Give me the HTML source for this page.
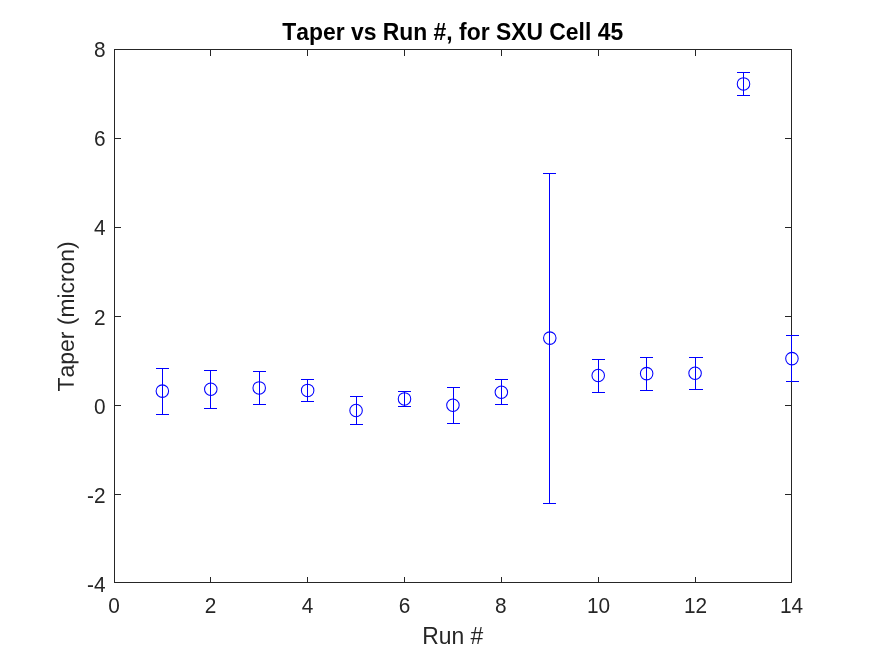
<!DOCTYPE html>
<html lang="en"><head><meta charset="utf-8"><title>Taper vs Run #, for SXU Cell 45</title>
<style>html,body{margin:0;padding:0;background:#fff;overflow:hidden}svg{display:block}text{font-family:"Liberation Sans",Arial,Helvetica,sans-serif;fill:#262626;font-kerning:none;font-feature-settings:"kern" 0,"liga" 0}.tk{font-size:20.83px}.lb{font-size:22.9px}.ti{font-size:22.9px;font-weight:bold;fill:#000}</style></head><body>
<svg width="875" height="656" viewBox="0 0 875 656">
<rect width="875" height="656" fill="#ffffff"/>
<g stroke="#262626" stroke-width="1" fill="none" stroke-linecap="butt">
<rect x="114.5" y="49.5" width="677.0" height="533.0"/>
<line x1="210.5" y1="582.5" x2="210.5" y2="577"/>
<line x1="210.5" y1="49.5" x2="210.5" y2="56"/>
<line x1="307.5" y1="582.5" x2="307.5" y2="577"/>
<line x1="307.5" y1="49.5" x2="307.5" y2="56"/>
<line x1="404.5" y1="582.5" x2="404.5" y2="577"/>
<line x1="404.5" y1="49.5" x2="404.5" y2="56"/>
<line x1="501.5" y1="582.5" x2="501.5" y2="577"/>
<line x1="501.5" y1="49.5" x2="501.5" y2="56"/>
<line x1="598.5" y1="582.5" x2="598.5" y2="577"/>
<line x1="598.5" y1="49.5" x2="598.5" y2="56"/>
<line x1="695.5" y1="582.5" x2="695.5" y2="577"/>
<line x1="695.5" y1="49.5" x2="695.5" y2="56"/>
<line x1="114.5" y1="138.5" x2="121" y2="138.5"/>
<line x1="791.5" y1="138.5" x2="785" y2="138.5"/>
<line x1="114.5" y1="227.5" x2="121" y2="227.5"/>
<line x1="791.5" y1="227.5" x2="785" y2="227.5"/>
<line x1="114.5" y1="316.5" x2="121" y2="316.5"/>
<line x1="791.5" y1="316.5" x2="785" y2="316.5"/>
<line x1="114.5" y1="405.5" x2="121" y2="405.5"/>
<line x1="791.5" y1="405.5" x2="785" y2="405.5"/>
<line x1="114.5" y1="494.5" x2="121" y2="494.5"/>
<line x1="791.5" y1="494.5" x2="785" y2="494.5"/>
</g>
<g class="tk" text-anchor="middle">
<text transform="translate(114.0,613.1) scale(1,1.065)">0</text>
<text transform="translate(210.5,613.1) scale(1,1.065)">2</text>
<text transform="translate(307.5,613.1) scale(1,1.065)">4</text>
<text transform="translate(404.5,613.1) scale(1,1.065)">6</text>
<text transform="translate(500.8,613.1) scale(1,1.065)">8</text>
<text transform="translate(598.5,613.1) scale(1,1.065)">10</text>
<text transform="translate(695.5,613.1) scale(1,1.065)">12</text>
<text transform="translate(791.5,613.1) scale(1,1.065)">14</text>
</g>
<g class="tk" text-anchor="end">
<text transform="translate(105.5,57.1) scale(1,1.065)">8</text>
<text transform="translate(105.5,146.1) scale(1,1.065)">6</text>
<text transform="translate(105.5,235.1) scale(1,1.065)">4</text>
<text transform="translate(105.5,325.1) scale(1,1.065)">2</text>
<text transform="translate(105.5,414.1) scale(1,1.065)">0</text>
<text transform="translate(105.5,503.1) scale(1,1.065)">-2</text>
<text transform="translate(105.5,592.1) scale(1,1.065)">-4</text>
</g>
<text class="ti" text-anchor="middle" transform="translate(452.7,39.9) scale(1,1.045)">Taper vs Run #, for SXU Cell 45</text>
<text class="lb" text-anchor="middle" transform="translate(452.7,643.9) scale(1,1.07)">Run #</text>
<text class="lb" text-anchor="middle" transform="translate(73.9,316.35) rotate(-89.95) scale(1.0,1.0)">Taper (micron)</text>
<g stroke="#0000ff" stroke-width="1" fill="none">
<path d="M162.5 368.5V414.5M156.0 368.5H169.0M156.0 414.5H169.0"/>
<path d="M210.5 370.5V408.5M204.0 370.5H217.0M204.0 408.5H217.0"/>
<path d="M259.5 371.5V404.5M253.0 371.5H266.0M253.0 404.5H266.0"/>
<path d="M307.5 379.5V401.5M301.0 379.5H314.0M301.0 401.5H314.0"/>
<path d="M356.5 396.5V424.5M350.0 396.5H363.0M350.0 424.5H363.0"/>
<path d="M404.5 391.5V406.5M398.0 391.5H411.0M398.0 406.5H411.0"/>
<path d="M453.5 387.5V423.5M447.0 387.5H460.0M447.0 423.5H460.0"/>
<path d="M501.5 379.5V404.5M495.0 379.5H508.0M495.0 404.5H508.0"/>
<path d="M549.5 173.5V503.5M543.0 173.5H556.0M543.0 503.5H556.0"/>
<path d="M598.5 359.5V392.5M592.0 359.5H605.0M592.0 392.5H605.0"/>
<path d="M646.5 357.5V390.5M640.0 357.5H653.0M640.0 390.5H653.0"/>
<path d="M695.5 357.5V389.5M689.0 357.5H703.0M689.0 389.5H703.0"/>
<path d="M743.5 72.5V95.5M737.0 72.5H750.0M737.0 95.5H750.0"/>
<path d="M791.5 335.5V381.5M786.0 335.5H799.0M786.0 381.5H799.0"/>
</g>
<g stroke="#0000ff" stroke-width="1.05" fill="none">
<circle cx="162.35" cy="391.1" r="6.25"/>
<circle cx="210.78" cy="389.3" r="6.25"/>
<circle cx="259.21" cy="387.9" r="6.25"/>
<circle cx="307.64" cy="390.4" r="6.25"/>
<circle cx="356.07" cy="410.5" r="6.25"/>
<circle cx="404.50" cy="398.9" r="6.25"/>
<circle cx="452.93" cy="405.2" r="6.25"/>
<circle cx="501.36" cy="392.3" r="6.25"/>
<circle cx="549.79" cy="338.1" r="6.25"/>
<circle cx="598.22" cy="375.5" r="6.25"/>
<circle cx="646.65" cy="373.6" r="6.25"/>
<circle cx="695.08" cy="373.2" r="6.25"/>
<circle cx="743.51" cy="83.9" r="6.25"/>
<circle cx="791.94" cy="358.6" r="6.25"/>
</g>
</svg></body></html>
